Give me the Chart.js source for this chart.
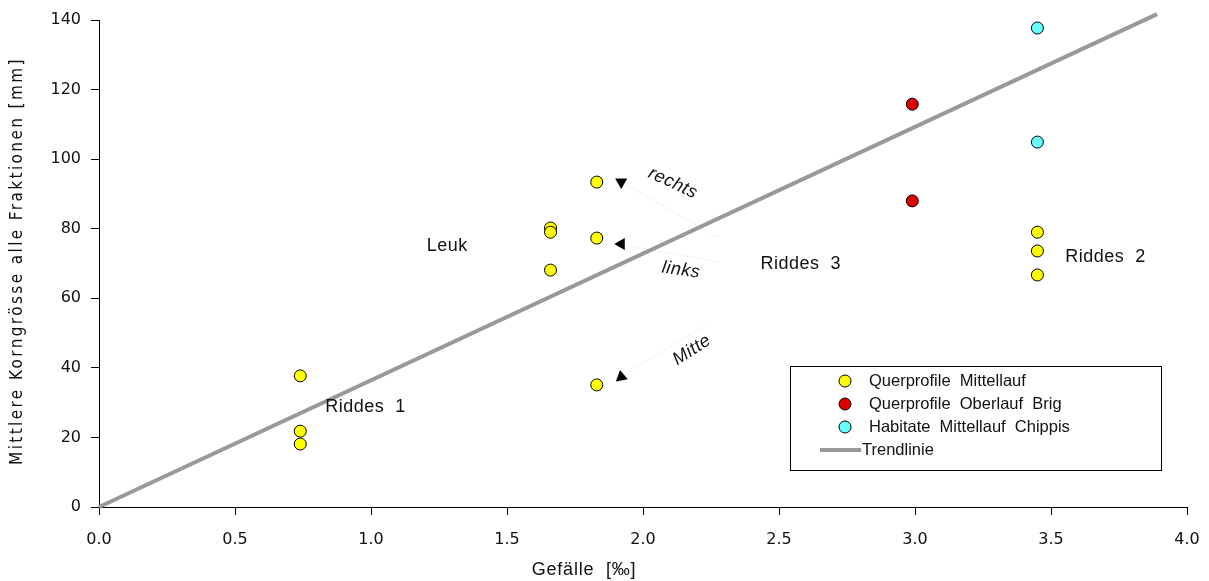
<!DOCTYPE html>
<html>
<head>
<meta charset="utf-8">
<script src="https://cdn.jsdelivr.net/npm/chart.js@4.4.0/dist/chart.umd.min.js"></script>
<style>
    html, body { margin: 0; padding: 0; background: #fff; }
    #wrap { width: 1209px; height: 581px; }
</style>
</head>
<body>
<div id="wrap"><canvas id="chart"></canvas></div>
<script>
// Querprofile Mittellauf
const mittelX = [0.74, 0.74, 0.74, 1.66, 1.66, 1.66, 1.83, 1.83, 1.83, 3.45, 3.45, 3.45];
const mittelY = [37.7, 21.8, 18.1, 80.2, 79.0, 68.1, 93.4, 77.3, 35.1, 79.0, 73.6, 66.7];

// Querprofile Oberlauf Brig
const oberX = [2.99, 2.99];
const oberY = [115.8, 88.0];

// Habitate Mittellauf Chippis
const chippisX = [3.45, 3.45];
const chippisY = [137.7, 104.9];

// Trendlinie (durch Nullpunkt)
const trendX = [0, 3.89];
const trendY = [0, 141.7];

// Pfeile rechts / links / Mitte
const arrowX = [1.92, 1.92, 1.92];
const arrowY = [93.4, 75.6, 37.4];
const arrowRot = [180, 270, -10];

// axis ticks
const xTickValues = [0, 0.5, 1.0, 1.5, 2.0, 2.5, 3.0, 3.5, 4.0];
const yTickValues = [0, 20, 40, 60, 80, 100, 120, 140];

const xTitle = 'Gefälle  [‰]';
const yTitle = 'Mittlere Korngrösse alle Fraktionen [mm]';

// text annotations (data coordinates)
const notes = [
    { text: 'Leuk', x: 1.28, y: 75.0, angle: 0, italic: false },
    { text: 'Riddes  1', x: 0.98, y: 28.7, angle: 0, italic: false },
    { text: 'Riddes  3', x: 2.58, y: 69.8, angle: 0, italic: false },
    { text: 'Riddes  2', x: 3.70, y: 71.9, angle: 0, italic: false },
    { text: 'rechts', x: 2.11, y: 93.1, angle: 25, italic: true },
    { text: 'links', x: 2.14, y: 68.1, angle: 8, italic: true },
    { text: 'Mitte', x: 2.18, y: 45.1, angle: -33, italic: true }
];

// faint leader lines from arrows to labels
const leaders = [
    [1.93, 93.0, 2.28, 77.3],
    [1.94, 75.2, 2.28, 70.4],
    [1.95, 39.0, 2.23, 52.3]
];

const toPoints = (xs, ys) => xs.map((v, i) => ({ x: v, y: ys[i] }));

const font = '"Liberation Sans", Arial, Helvetica, sans-serif';
const tickFont = '"DejaVu Sans", Verdana, sans-serif';

const annotationPlugin = {
    id: 'annotations',
    beforeDatasetsDraw(chart) {
        const { ctx, scales: { x, y } } = chart;
        ctx.save();
        ctx.strokeStyle = 'rgba(0,0,0,0.05)';
        ctx.lineWidth = 1;
        leaders.forEach(l => {
            ctx.beginPath();
            ctx.moveTo(x.getPixelForValue(l[0]), y.getPixelForValue(l[1]));
            ctx.lineTo(x.getPixelForValue(l[2]), y.getPixelForValue(l[3]));
            ctx.stroke();
        });
        ctx.restore();
    },
    afterDatasetsDraw(chart) {
        const { ctx, scales: { x, y } } = chart;
        ctx.save();
        ctx.fillStyle = '#111';
        ctx.textAlign = 'center';
        ctx.textBaseline = 'middle';
        ctx.letterSpacing = '0.5px';
        notes.forEach(n => {
            ctx.save();
            ctx.translate(x.getPixelForValue(n.x), y.getPixelForValue(n.y));
            ctx.rotate(n.angle * Math.PI / 180);
            ctx.font = (n.italic ? 'italic ' : '') + '18px ' + font;
            ctx.fillText(n.text, 0, 0);
            ctx.restore();
        });
        ctx.restore();
    },
    afterDraw(chart) {
        const { ctx } = chart;
        ctx.save();

        // axis titles
        ctx.fillStyle = '#111';
        ctx.textAlign = 'center';
        ctx.textBaseline = 'middle';
        ctx.font = '18px ' + font;
        ctx.letterSpacing = '0.8px';
        ctx.fillText(xTitle, 584, 570);

        ctx.save();
        ctx.translate(18, 261);
        ctx.rotate(-Math.PI / 2);
        ctx.font = '17px "DejaVu Sans Condensed", "DejaVu Sans", sans-serif';
        ctx.letterSpacing = '2.4px';
        ctx.fillText(yTitle, 0, 0);
        ctx.restore();

        // legend box
        const bx = 790, by = 366, bw = 371, bh = 104;
        ctx.fillStyle = '#fff';
        ctx.fillRect(bx, by, bw, bh);
        ctx.strokeStyle = '#000';
        ctx.lineWidth = 1;
        ctx.strokeRect(bx + 0.5, by + 0.5, bw, bh);

        ctx.font = '16.5px ' + font;
        ctx.letterSpacing = '0px';
        ctx.textAlign = 'left';
        const rowY = [381, 404, 427, 450];
        const items = chart.data.datasets.filter(d => d.inLegend);
        items.forEach((d, i) => {
            const yy = rowY[i];
            if (d.showLine) {
                ctx.strokeStyle = d.borderColor;
                ctx.lineWidth = d.borderWidth;
                ctx.beginPath();
                ctx.moveTo(820, yy);
                ctx.lineTo(861, yy);
                ctx.stroke();
                ctx.fillStyle = '#111';
                ctx.fillText(d.label, 862, yy);
            } else {
                ctx.beginPath();
                ctx.arc(845, yy, 6, 0, Math.PI * 2);
                ctx.fillStyle = d.backgroundColor;
                ctx.fill();
                ctx.strokeStyle = '#000';
                ctx.lineWidth = 1;
                ctx.stroke();
                ctx.fillStyle = '#111';
                ctx.fillText(d.label, 869, yy);
            }
        });
        ctx.restore();
    }
};

const pointStyle = color => ({
    backgroundColor: color,
    borderColor: '#000',
    borderWidth: 1,
    pointRadius: 6,
    pointHoverRadius: 6,
    showLine: false,
    inLegend: true,
    order: 1
});

const ctx = document.getElementById('chart').getContext('2d');
const chart = new Chart(ctx, {
    type: 'scatter',
    data: {
        datasets: [
            Object.assign({ label: 'Querprofile  Mittellauf', data: toPoints(mittelX, mittelY) }, pointStyle('#FFFF00')),
            Object.assign({ label: 'Querprofile  Oberlauf  Brig', data: toPoints(oberX, oberY) }, pointStyle('#DD0000')),
            Object.assign({ label: 'Habitate  Mittellauf  Chippis', data: toPoints(chippisX, chippisY) }, pointStyle('#66FFFF')),
            {
                label: 'Trendlinie',
                data: toPoints(trendX, trendY),
                showLine: true,
                borderColor: '#999999',
                borderWidth: 4,
                pointRadius: 0,
                clip: false,
                inLegend: true,
                order: 5
            },
            {
                label: 'Pfeile',
                data: toPoints(arrowX, arrowY),
                showLine: false,
                pointStyle: 'triangle',
                rotation: arrowRot,
                pointRadius: 7,
                backgroundColor: '#000',
                borderColor: '#000',
                borderWidth: 0,
                inLegend: false,
                order: 2
            }
        ]
    },
    options: {
        responsive: true,
        maintainAspectRatio: false,
        animation: false,
        layout: { padding: { top: 20, right: 22, left: 0, bottom: 0 } },
        plugins: {
            legend: { display: false },
            tooltip: { enabled: false }
        },
        scales: {
            x: {
                type: 'linear',
                min: 0,
                max: 4,
                afterBuildTicks: s => { s.ticks = xTickValues.map(v => ({ value: v })); },
                afterFit: s => {
                    s.height = 74;
                    s.paddingLeft = 0;
                    s.paddingRight = 0;
                },
                grid: { drawOnChartArea: false, drawTicks: true, tickLength: 8, color: '#000' },
                border: { display: true, color: '#000', width: 1 },
                ticks: {
                    color: '#111',
                    padding: 15,
                    maxRotation: 0,
                    font: { family: tickFont, size: 16 },
                    callback: v => v.toFixed(1)
                }
            },
            y: {
                type: 'linear',
                min: 0,
                max: 140,
                afterBuildTicks: s => { s.ticks = yTickValues.map(v => ({ value: v })); },
                afterFit: s => {
                    s.width = 99;
                    s.paddingTop = 0;
                    s.paddingBottom = 0;
                },
                grid: { drawOnChartArea: false, drawTicks: true, tickLength: 8, color: '#000' },
                border: { display: true, color: '#000', width: 1 },
                ticks: {
                    color: '#111',
                    padding: 10,
                    font: { family: tickFont, size: 16 }
                }
            }
        }
    },
    plugins: [annotationPlugin]
});
</script>
</body>
</html>
